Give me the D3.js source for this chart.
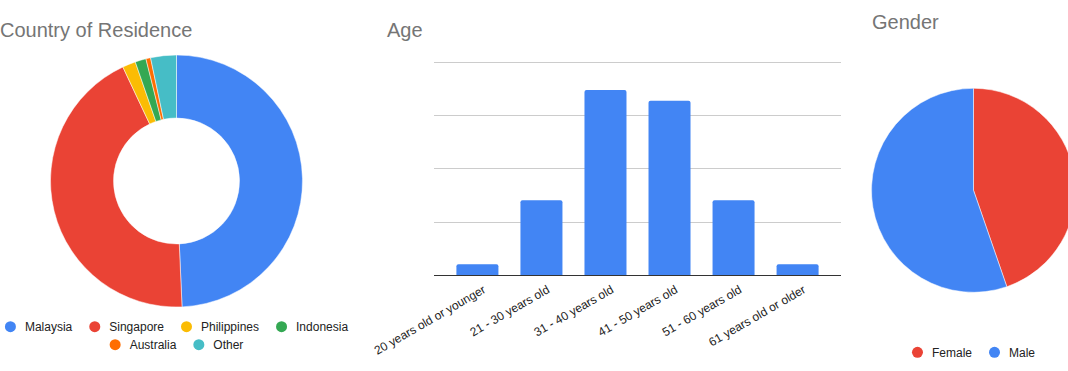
<!DOCTYPE html>
<html lang="en">
<head>
<meta charset="utf-8">
<title>Survey charts</title>
<script src="https://cdn.jsdelivr.net/npm/d3@7/dist/d3.min.js"></script>
<style>
    body { margin: 0; background: #fff; }
    text { font-family: "Liberation Sans", Arial, sans-serif; }
</style>
</head>
<body>
<script>
// Country of residence (share of respondents, %)
var countries = ["Malaysia", "Singapore", "Philippines", "Indonesia", "Australia", "Other"];
var countryValues = [49.3, 43.7, 1.7, 1.4, 0.6, 3.3];
var countryColors = ["#4285f4", "#ea4335", "#fbbc04", "#34a853", "#ff6d01", "#46bdc6"];

// Age groups (respondent counts)
var ageGroups = ["20 years old or younger", "21 - 30 years old", "31 - 40 years old",
                 "41 - 50 years old", "51 - 60 years old", "61 years old or older"];
var ageValues = [3, 21, 52, 49, 21, 3];
var ageTicks = [0, 15, 30, 45, 60];

// Gender (%)
var genders = ["Female", "Male"];
var genderValues = [44.7, 55.3];
var genderColors = ["#ea4335", "#4285f4"];

var width = 1068, height = 371;

var svg = d3.select("body").append("svg")
    .attr("width", width)
    .attr("height", height);

// titles
function title(x, y, txt) {
    svg.append("text")
        .attr("x", x).attr("y", y)
        .style("font-size", "20px")
        .style("fill", "#757575")
        .text(txt);
}
title(0, 37, "Country of Residence");
title(387, 37, "Age");
title(872, 29, "Gender");

// legend with simple row wrapping, centred on cx
function legend(names, colors, cx, y0, maxW) {
    var g = svg.append("g");
    var items = names.map(function(n, i) {
        var t = g.append("text").style("font-size", "12px").style("fill", "#222").text(n);
        return { name: n, color: colors[i], node: t, w: 5.5 + 14.5 + t.node().getComputedTextLength() };
    });
    var rows = [[]], rowW = [0], gap = 17;
    items.forEach(function(it) {
        var r = rows.length - 1;
        var add = (rows[r].length ? gap : 0) + it.w;
        if (rows[r].length && rowW[r] + add > maxW) {
            rows.push([it]); rowW.push(it.w);
        } else {
            rows[r].push(it); rowW[r] += add;
        }
    });
    rows.forEach(function(row, r) {
        var x = cx - rowW[r] / 2, y = y0 + r * 18;
        row.forEach(function(it) {
            g.append("circle")
                .attr("cx", x + 5.5).attr("cy", y)
                .attr("r", 5.5)
                .style("fill", it.color);
            it.node.attr("x", x + 20).attr("y", y + 4.3);
            x += it.w + gap;
        });
    });
}

// ---- Country donut ----
var donutCx = 176.5, donutCy = 181, donutR = 126;
var pie = d3.pie().sort(null);
var arc = d3.arc().innerRadius(donutR * 0.5).outerRadius(donutR);

svg.append("g")
    .attr("transform", "translate(" + donutCx + "," + donutCy + ")")
    .selectAll("path")
    .data(pie(countryValues))
    .enter().append("path")
    .attr("d", arc)
    .style("fill", function(d, i) { return countryColors[i]; })
    .style("stroke", "#fff")
    .style("stroke-width", 0.5);

legend(countries, countryColors, donutCx, 326.7, 360);

// ---- Age bar chart ----
var bx0 = 434, bx1 = 841, by0 = 275, by1 = 61.5;

var x = d3.scaleBand()
    .domain(ageGroups)
    .range([bx0, bx1])
    .paddingInner(0.344)
    .paddingOuter(0.35);

var y = d3.scaleLinear()
    .domain([0, 60])
    .range([by0, by1]);

svg.append("g").selectAll("line")
    .data(ageTicks.slice(1))
    .enter().append("line")
    .attr("x1", bx0).attr("x2", bx1)
    .attr("y1", function(d) { return Math.round(y(d)) + 0.5; })
    .attr("y2", function(d) { return Math.round(y(d)) + 0.5; })
    .style("stroke", "#cccccc")
    .style("stroke-width", 1);

function barPath(x0, y0, w, h, r) {
    return "M" + x0 + "," + (y0 + h) +
        "V" + (y0 + r) +
        "Q" + x0 + "," + y0 + " " + (x0 + r) + "," + y0 +
        "H" + (x0 + w - r) +
        "Q" + (x0 + w) + "," + y0 + " " + (x0 + w) + "," + (y0 + r) +
        "V" + (y0 + h) + "Z";
}

svg.append("g").selectAll("path")
    .data(ageValues)
    .enter().append("path")
    .attr("d", function(d, i) {
        return barPath(x(ageGroups[i]), y(d), x.bandwidth(), by0 - y(d), 2);
    })
    .style("fill", "#4285f4");

svg.append("line")
    .attr("x1", bx0).attr("x2", bx1)
    .attr("y1", by0 + 0.5).attr("y2", by0 + 0.5)
    .style("stroke", "#333")
    .style("stroke-width", 1);

svg.append("g").selectAll("text")
    .data(ageGroups)
    .enter().append("text")
    .attr("text-anchor", "end")
    .attr("transform", function(d) {
        return "translate(" + (x(d) + x.bandwidth() / 2 + 9) + "," + 292 + ") rotate(-30)";
    })
    .style("font-size", "12px")
    .style("fill", "#222")
    .text(function(d) { return d; });

// ---- Gender pie ----
var pieCx = 973.5, pieCy = 190.3, pieR = 102;
var arc2 = d3.arc().innerRadius(0).outerRadius(pieR);

svg.append("g")
    .attr("transform", "translate(" + pieCx + "," + pieCy + ")")
    .selectAll("path")
    .data(pie(genderValues))
    .enter().append("path")
    .attr("d", arc2)
    .style("fill", function(d, i) { return genderColors[i]; })
    .style("stroke", "#fff")
    .style("stroke-width", 0.5);

legend(genders, genderColors, pieCx, 352.3, 200);
</script>
</body>
</html>
